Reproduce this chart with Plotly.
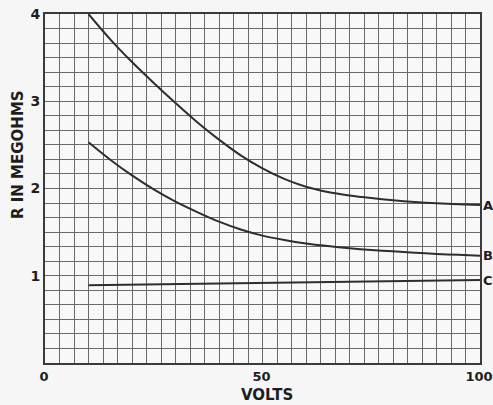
import plotly.graph_objects as go

volts = [10, 15, 20, 25, 30, 35, 40, 45, 50, 55, 60, 65, 70, 75, 80, 85, 90, 95, 100]
r_a = [4.0, 3.71, 3.45, 3.21, 2.98, 2.76, 2.56, 2.38, 2.23, 2.11, 2.02, 1.96, 1.92, 1.89, 1.865, 1.845, 1.83, 1.82, 1.81]
r_b = [2.53, 2.33, 2.15, 1.99, 1.85, 1.73, 1.62, 1.53, 1.46, 1.41, 1.37, 1.34, 1.315, 1.295, 1.28, 1.265, 1.25, 1.24, 1.23]
volts_c = [10, 50, 100]
r_c = [0.89, 0.92, 0.95]
curve_names = ["A", "B", "C"]

x_ticks = [0, 50, 100]
y_ticks = [1, 2, 3, 4]

line_style = dict(color="#2e2e2e", width=2)
fig = go.Figure()
fig.add_trace(go.Scatter(x=volts, y=r_a, mode="lines", line=dict(line_style, shape="spline", smoothing=0.8), name="A"))
fig.add_trace(go.Scatter(x=volts, y=r_b, mode="lines", line=dict(line_style, shape="spline", smoothing=0.8), name="B"))
fig.add_trace(go.Scatter(x=volts_c, y=r_c, mode="lines", line=line_style, name="C"))

font = dict(family="DejaVu Sans, Liberation Sans, sans-serif", size=14, color="#1e1e1e", weight="bold")

for name, ys in zip(curve_names, [r_a, r_b, r_c]):
    fig.add_annotation(x=1, xref="paper", y=ys[-1], yref="y", text=name,
                       showarrow=False, xanchor="left", xshift=1, font=dict(font, size=13))

# axis titles as annotations for exact placement
fig.add_annotation(x=0.51, xref="paper", y=-0.0917, yref="paper", text="VOLTS",
                   showarrow=False, yanchor="middle", font=dict(font, size=15))
fig.add_annotation(x=-0.062, xref="paper", y=0.596, yref="paper", text="R IN MEGOHMS",
                   showarrow=False, textangle=-90, xanchor="center", yanchor="middle",
                   font=dict(font, size=15))

fig.update_layout(
    width=493, height=405,
    margin=dict(l=45, r=13, t=14, b=42),
    paper_bgcolor="#f6f6f6", plot_bgcolor="#f8f8f8",
    showlegend=False,
    font=font,
    xaxis=dict(
        range=[0, 100], tickvals=x_ticks, ticktext=[str(v) for v in x_ticks],
        tickfont=dict(font, size=13),
        showgrid=True, gridcolor="#6a6a6a", gridwidth=1,
        minor=dict(dtick=100 / 30, showgrid=True, gridcolor="#6a6a6a", gridwidth=1),
        showline=True, linecolor="#3a3a3a", linewidth=2, mirror=True,
        ticks="", zeroline=False, automargin=False, ticklabelstandoff=0,
        ticklabeloverflow="allow", ticklabelshift=-1,
    ),
    yaxis=dict(
        range=[0, 4], tickvals=y_ticks, ticktext=[str(v) for v in y_ticks],
        showgrid=True, gridcolor="#6a6a6a", gridwidth=1,
        minor=dict(dtick=1 / 6, showgrid=True, gridcolor="#6a6a6a", gridwidth=1),
        showline=True, linecolor="#3a3a3a", linewidth=2, mirror=True,
        ticks="", zeroline=False, automargin=False, ticklabeloverflow="allow",
    ),
)

fig.write_html("out.html", config={"displayModeBar": False},
               post_script="document.body.style.margin='0';document.body.style.overflow='hidden';")
